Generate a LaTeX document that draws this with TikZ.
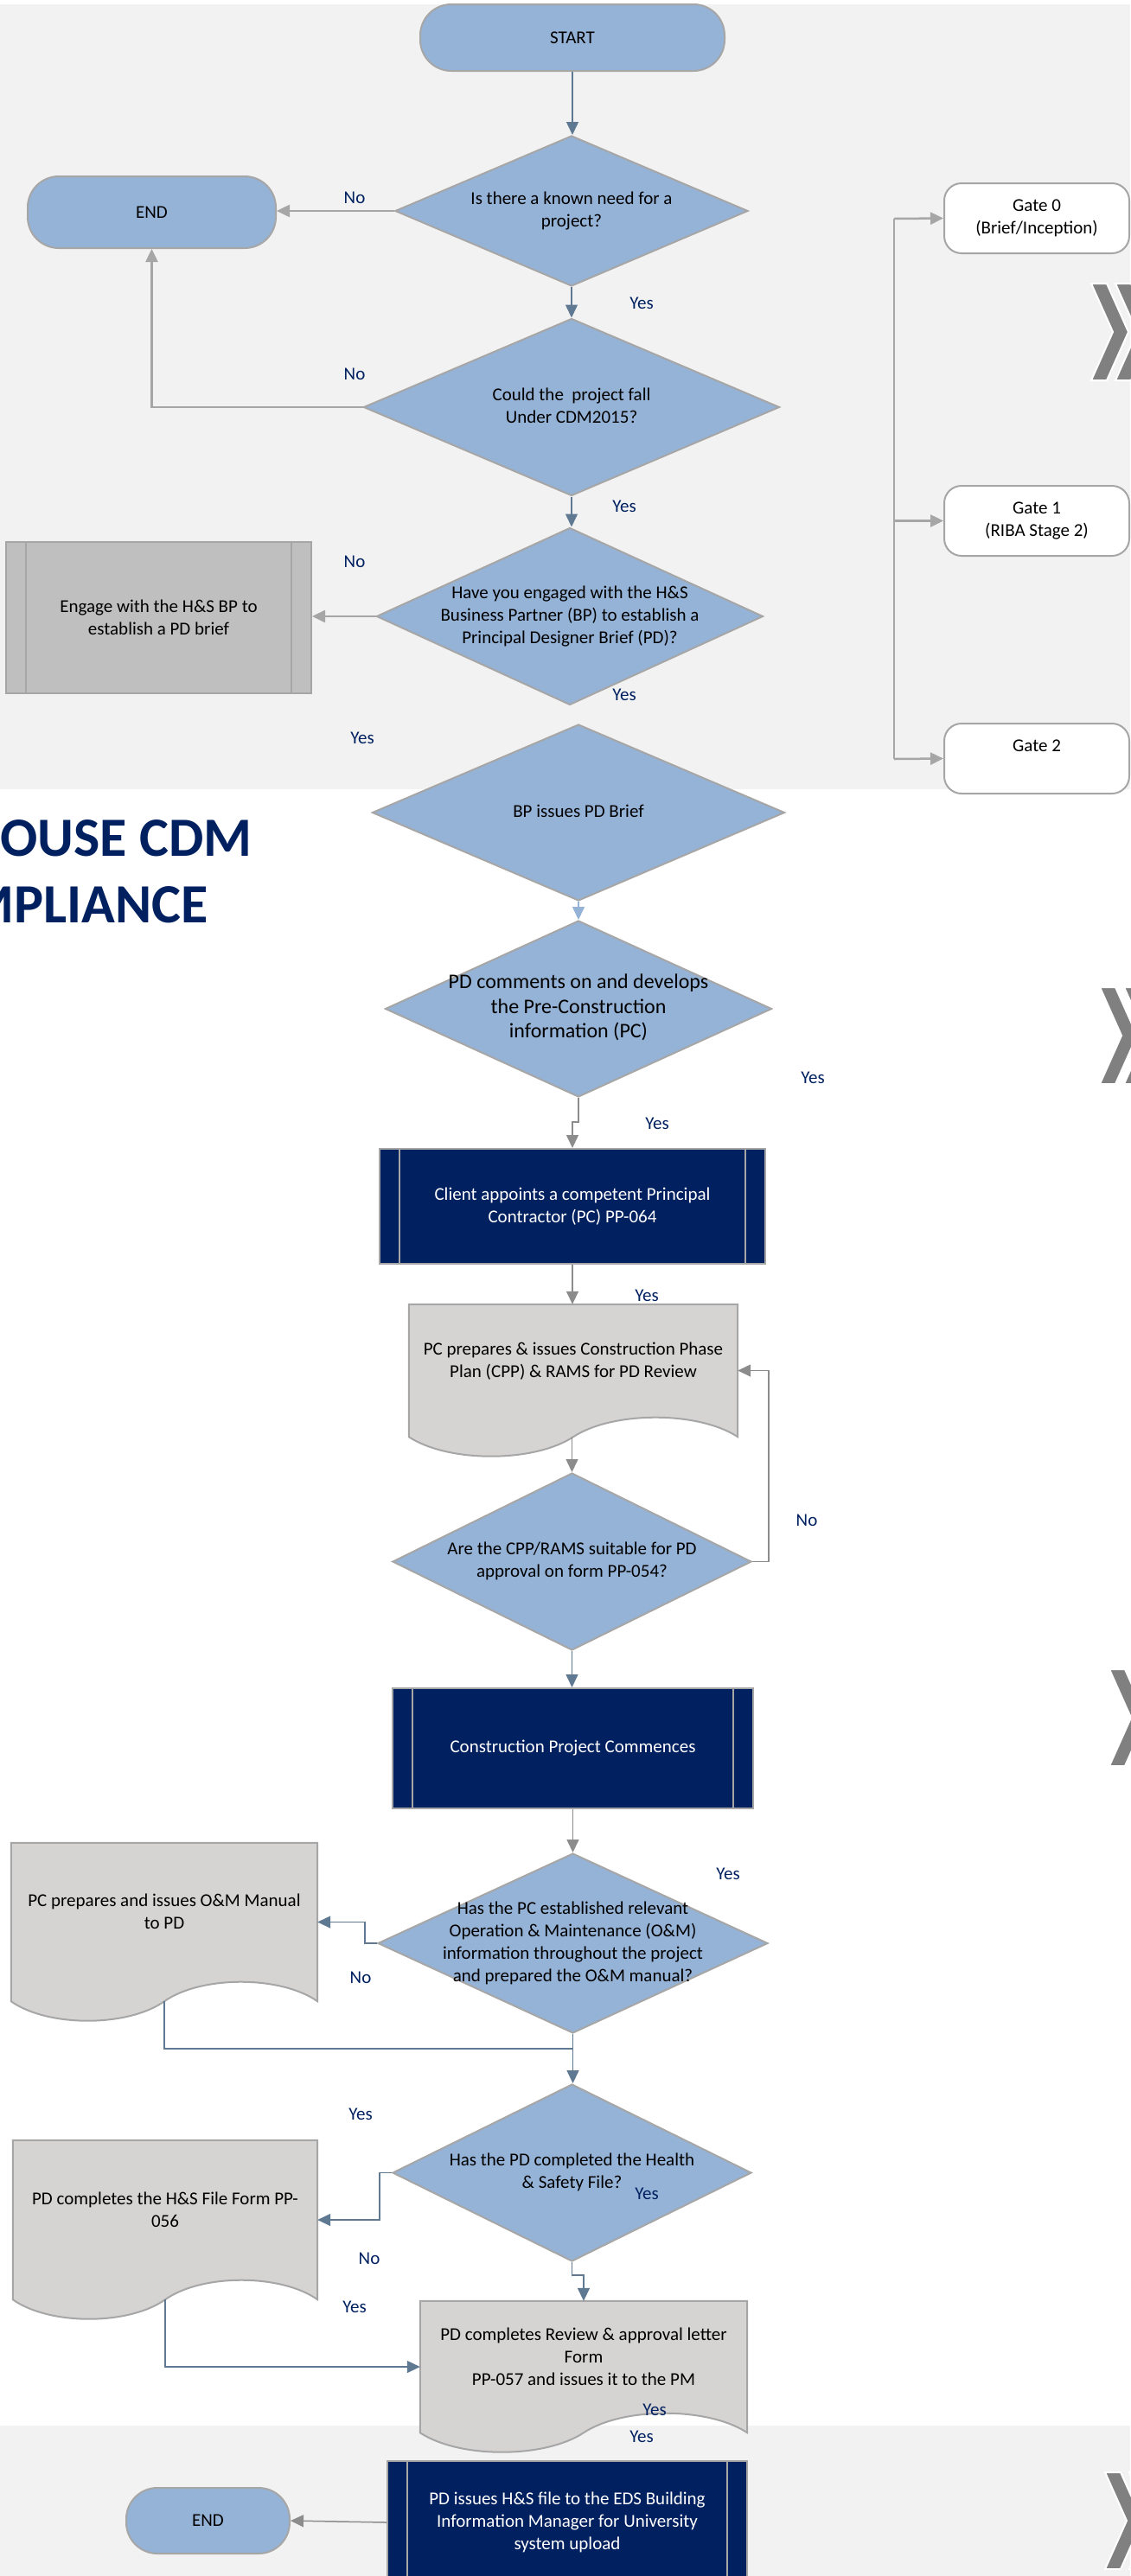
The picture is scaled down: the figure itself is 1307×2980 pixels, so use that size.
\documentclass[tikz,border=0pt]{standalone}
\usepackage{fontspec}
\setmainfont{Carlito}
\usetikzlibrary{shapes.geometric,arrows.meta,calc,backgrounds}

\definecolor{dblue}{HTML}{95B3D7}
\definecolor{navy}{HTML}{002060}
\definecolor{edge}{HTML}{A6A6A6}
\definecolor{docgrey}{HTML}{D6D3D3}
\definecolor{boxgrey}{HTML}{BFBFBF}
\definecolor{band}{HTML}{F2F2F2}
\definecolor{slate}{HTML}{607992}
\definecolor{midgrey}{HTML}{8C8C8C}
\definecolor{chev}{HTML}{808080}

% text set over a diamond, the diamond keeps its own size
\newcommand{\qtext}[1]{\smash{\makebox[0pt]{\raisebox{-0.25em}{\begin{tabular}{@{}c@{}}#1\end{tabular}}}}}

% document outline round a docnode
\newcommand{\docshape}[1]{%
  \begin{pgfonlayer}{background}
    \filldraw[fill=docgrey, draw=edge, line width=2pt]
      (#1.south west) -- (#1.north west) -- (#1.north east) -- (#1.south east)
      .. controls ($(#1.south west)!0.88!(#1.south east)+(0,-30)$) and ($(#1.south west)!0.62!(#1.south east)+(0,-30)$) .. ($(#1.south west)!0.5!(#1.south east)$)
      .. controls ($(#1.south west)!0.38!(#1.south east)+(0,30)$) and ($(#1.south west)!0.12!(#1.south east)+(0,30)$) .. (#1.south west) -- cycle;
  \end{pgfonlayer}}

\newcommand{\chevrons}[2]{%
  \foreach \dx in {0,28}
    \filldraw[fill=chev, draw=white, line width=2pt]
      (#1+\dx,#2) -- ++(18,0) -- ++(25,56) -- ++(-25,56) -- ++(-18,0) -- ++(25,-56) -- cycle;}

\tikzset{
  terminal/.style={rectangle, rounded corners=36pt, draw=edge, line width=2pt, fill=dblue, inner sep=0pt},
  decision/.style={diamond, draw=edge, line width=2pt, fill=dblue, inner sep=0pt},
  process/.style={rectangle, draw=edge, line width=2pt, inner sep=0pt, align=center,
    path picture={\draw[edge, line width=1.5pt]
      ([xshift=23pt]path picture bounding box.north west) -- ([xshift=23pt]path picture bounding box.south west)
      ([xshift=-23pt]path picture bounding box.north east) -- ([xshift=-23pt]path picture bounding box.south east);}},
  navybox/.style={process, fill=navy, text=white},
  greybox/.style={process, fill=boxgrey},
  gate/.style={rectangle, rounded corners=20pt, draw=edge, line width=2pt, fill=white, inner sep=0pt,
    align=center, minimum width=214pt, minimum height=81pt},
  docnode/.style={rectangle, inner sep=0pt, align=center, text depth=24pt},
  lbl/.style={text=navy, inner sep=0pt},
  flowtip/.style={-{Triangle[length=15pt,width=14pt]}},
  slatearrow/.style={flowtip, draw=slate, line width=1.5pt},
  greyarrow/.style={flowtip, draw=edge, line width=2.5pt},
  midarrow/.style={flowtip, draw=midgrey, line width=1.5pt},
  bluearrow/.style={flowtip, draw=dblue, line width=1.5pt},
  slateline/.style={draw=slate, line width=1.5pt},
  greyline/.style={draw=edge, line width=2pt},
}

\begin{document}
\begin{tikzpicture}[x=1pt,y=-1pt]
  \tikzstyle{every node}=[font=\fontsize{21}{26}\selectfont]
  \useasboundingbox (0,0) rectangle (1307,2980);

  \begin{pgfonlayer}{background}
    \fill[band] (0,5) rectangle (1307,913);
    \fill[band] (0,2806) rectangle (1307,2980);
  \end{pgfonlayer}

  \node[anchor=base east, inner sep=0pt, text=navy, font=\fontsize{64}{70}\selectfont\bfseries] (title1) at (292,990) {OUSE CDM};
  \node[anchor=base east, inner sep=0pt, text=navy, font=\fontsize{64}{70}\selectfont\bfseries] (title2) at (241,1067) {MPLIANCE};

  \chevrons{1262}{328}
  \chevrons{1272}{1142}
  \chevrons{1283}{1931}
  \chevrons{1278}{2860}


  \node[terminal, minimum width=352pt, minimum height=77pt] (start) at (662,43.5) {START};
  \node[terminal, minimum width=287pt, minimum height=83pt] (end1) at (175.5,245.5) {END};

  \node[decision, minimum width=408pt, minimum height=174pt] (d1) at (661,244)
    {\qtext{Is there a known need for a\\project?}};
  \node[decision, minimum width=481pt, minimum height=205pt] (d2) at (661,471)
    {\qtext{Could the~ project fall\\Under CDM2015?}};
  \node[decision, minimum width=447pt, minimum height=205pt] (d3) at (659,713)
    {\qtext{Have you engaged with the H\&S\\Business Partner (BP) to establish a\\Principal Designer Brief (PD)?}};

  \node[greybox, minimum width=353pt, minimum height=175pt] (engage) at (183.5,714.5)
    {Engage with the H\&S BP to\\establish a PD brief};


  \node[gate] (gate0) at (1199,252.5) {Gate 0\\(Brief/Inception)};
  \node[gate] (gate1) at (1199,602.5) {Gate 1\\(RIBA Stage 2)};
  \node[gate] (gate2) at (1199,877.5) {Gate 2\\\phantom{(RIBA)}};


  \node[decision, minimum width=477pt, minimum height=204pt] (d4) at (669,940)
    {\qtext{BP issues PD Brief}};
  \node[decision, minimum width=447pt, minimum height=204pt, font=\fontsize{24}{28.5}\selectfont] (d5) at (669,1167)
    {\qtext{PD comments on and develops\\the Pre-Construction\\information (PC)}};

  \node[navybox, minimum width=446pt, minimum height=133pt] (client) at (662,1395.5)
    {Client appoints a competent Principal\\Contractor (PC) PP-064};

  \node[docnode, minimum width=380pt, minimum height=153pt] (doc1) at (663,1585.5)
    {PC prepares \& issues Construction Phase\\Plan (CPP) \& RAMS for PD Review};
  \docshape{doc1}

  \node[decision, minimum width=415pt, minimum height=205pt] (d6) at (661.5,1806.5)
    {\qtext{Are the CPP/RAMS suitable for PD\\approval on form PP-054?}};

  \node[navybox, minimum width=417pt, minimum height=139pt] (constr) at (662.5,2022.5)
    {Construction Project Commences};


  \node[decision, minimum width=451pt, minimum height=208pt] (d7) at (662.5,2248)
    {\qtext{Has the PC established relevant\\Operation \& Maintenance (O\&M)\\information throughout the project\\and prepared the O\&M manual?}};

  \node[docnode, minimum width=354pt, minimum height=183pt] (doc2) at (190,2223.5)
    {PC prepares and issues O\&M Manual\\to PD};
  \docshape{doc2}

  \coordinate (join) at (662.5,2370);

  \node[decision, minimum width=415pt, minimum height=205pt] (d8) at (661.5,2513.5)
    {\qtext{Has the PD completed the Health\\\& Safety File?}};

  \node[docnode, minimum width=352pt, minimum height=184pt] (doc3) at (191,2568)
    {PD completes the H\&S File Form PP-\\056};
  \docshape{doc3}

  \node[docnode, minimum width=378pt, minimum height=152pt] (doc4) at (675,2738)
    {PD completes Review \& approval letter\\Form\\PP-057 and issues it to the PM};
  \docshape{doc4}

  \node[navybox, minimum width=416pt, minimum height=142pt] (final) at (656,2918)
    {PD issues H\&S file to the EDS Building\\Information Manager for University\\system upload};
  \node[terminal, minimum width=189pt, minimum height=76pt] (end2) at (240.5,2916) {END};


  \coordinate (spinetop) at (1034,253);
  \coordinate (spinebot) at (1034,878);

  \draw[slatearrow] (start.south) -- (start.south |- d1.north);
  \draw[greyarrow] (d1.west) -- (d1.west -| end1.east);
  \draw[slatearrow] (d1.south) -- (d2.north);
  \draw[greyarrow] (d2.west) -| (end1.south);
  \draw[slatearrow] (d2.south) -- (d2.south |- d3.north);
  \draw[greyarrow] (d3.west) -- (d3.west -| engage.east);
  \draw[greyline] (spinetop) -- (spinebot);
  \draw[greyarrow] (spinetop) -- (gate0.west);
  \draw[greyarrow] (spinetop |- gate1.west) -- (gate1.west);
  \draw[greyarrow] (spinebot) -- (gate2.west);
  \draw[bluearrow] (d4.south) -- (d5.north);
  \draw[midarrow] (d5.south) -- ++(0,28) -| (client.north);
  \draw[midarrow] (client.south) -- (client.south |- doc1.north);
  \draw[midarrow] (d6.north |- doc1.south) -- (d6.north);
  \draw[midarrow] (d6.east) -- ++(19,0) |- (doc1.east);
  \draw[slatearrow] (d6.south) -- (d6.south |- constr.north);
  \draw[midarrow] (constr.south) -- (d7.north);
  \draw[slatearrow] (d7.west) -- ++(-14,0) |- (doc2.east);
  \draw[slateline] (doc2.south) |- (join);
  \draw[slatearrow] (d7.south) -- (d7.south |- d8.north);
  \draw[slatearrow] (d8.west) -- ++(-14,0) |- (doc3.east);
  \draw[slatearrow] (d8.south) -- ++(0,15) -| (doc4.north);
  \draw[slatearrow] (doc3.south) |- (doc4.west);
  \draw[midarrow] (final.west) -- (end2.east);


  \node[lbl] (no1) at (410,229) {No};
  \node[lbl] (yes1) at (742,351) {Yes};
  \node[lbl] (no2) at (410,433) {No};
  \node[lbl] (yes2) at (722,586) {Yes};
  \node[lbl] (no3) at (410,650) {No};
  \node[lbl] (yes3) at (722,804) {Yes};
  \node[lbl] (yes4) at (419,854) {Yes};
  \node[lbl] (yes5) at (940,1247) {Yes};
  \node[lbl] (yes6) at (760,1300) {Yes};
  \node[lbl] (yes7) at (748,1499) {Yes};
  \node[lbl] (no4) at (933,1759) {No};
  \node[lbl] (yes8) at (842,2168) {Yes};
  \node[lbl] (no5) at (417,2288) {No};
  \node[lbl] (yes9) at (417,2446) {Yes};
  \node[lbl] (yes10) at (748,2538) {Yes};
  \node[lbl] (no6) at (427,2613) {No};
  \node[lbl] (yes11) at (410,2669) {Yes};
  \node[lbl] (yes12) at (757,2788) {Yes};
  \node[lbl] (yes13) at (742,2819) {Yes};

\end{tikzpicture}
\end{document}
